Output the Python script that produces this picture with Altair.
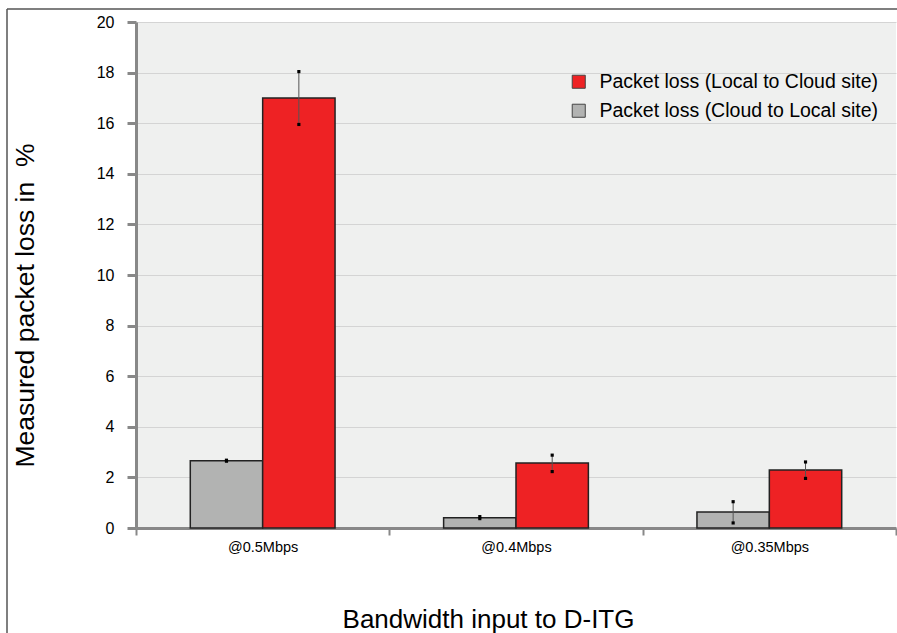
import altair as alt
import pandas as pd

# Bandwidth settings fed to D-ITG
categories = ["@0.5Mbps", "@0.4Mbps", "@0.35Mbps"]

series_up = "Packet loss (Local to Cloud site)"
series_down = "Packet loss (Cloud to Local site)"

# Mean packet loss (%) and error-bar bounds per bandwidth
local_to_cloud = [17.0, 2.57, 2.29]
local_to_cloud_low = [15.95, 2.23, 1.96]
local_to_cloud_high = [18.04, 2.88, 2.61]

cloud_to_local = [2.66, 0.41, 0.63]
cloud_to_local_low = [2.64, 0.37, 0.20]
cloud_to_local_high = [2.68, 0.45, 1.04]

rows = []
for i, c in enumerate(categories):
    rows.append({"cat": c, "series": series_down, "value": cloud_to_local[i],
                 "lo": cloud_to_local_low[i], "hi": cloud_to_local_high[i]})
    rows.append({"cat": c, "series": series_up, "value": local_to_cloud[i],
                 "lo": local_to_cloud_low[i], "hi": local_to_cloud_high[i]})
df = pd.DataFrame(rows)

FONT = "Liberation Sans"
y_title = "Measured packet loss in \u00a0%"

x_enc = alt.X("cat:N", sort=categories, title="Bandwidth input to D-ITG",
              scale=alt.Scale(paddingInner=0, paddingOuter=0),
              axis=alt.Axis(tickBand="extent", titleX=352, titleY=99,
                            titleBaseline="alphabetic", titleAnchor="start",
                            titleAlign="center"))
xo_enc = alt.XOffset("series:N", sort=[series_down, series_up],
                     scale=alt.Scale(paddingInner=0, paddingOuter=0.75))
y_scale = alt.Scale(domain=[0, 20])

base = alt.Chart(df).encode(x=x_enc, xOffset=xo_enc)

bars = base.mark_bar(stroke="#222222", strokeWidth=1.5).encode(
    y=alt.Y("value:Q", scale=y_scale, title=y_title,
            axis=alt.Axis(values=list(range(0, 21, 2)))),
    color=alt.Color(
        "series:N",
        scale=alt.Scale(domain=[series_up, series_down], range=["#ee2224", "#b2b3b2"]),
        legend=alt.Legend(title=None, orient="none", legendX=433, legendY=50,
                          symbolType="square", labelLimit=0),
    ),
)

err = base.mark_rule(color="#555555", strokeWidth=1).encode(
    y=alt.Y("lo:Q", scale=y_scale, title=y_title), y2="hi:Q"
)
cap_lo = base.mark_square(size=10, color="black", opacity=1).encode(
    y=alt.Y("lo:Q", scale=y_scale, title=y_title)
)
cap_hi = base.mark_square(size=10, color="black", opacity=1).encode(
    y=alt.Y("hi:Q", scale=y_scale, title=y_title)
)

# Outer frame lines (top and left)
frame_src = alt.Data(values=[{"k": 0}])
frame_top = alt.Chart(frame_src).mark_rule(color="#555555", strokeWidth=1.5).encode(
    x=alt.value(-129), x2=alt.value(761), y=alt.value(-13)
)
frame_left = alt.Chart(frame_src).mark_rule(color="#555555", strokeWidth=1.5).encode(
    x=alt.value(-129), y=alt.value(-13), y2=alt.value(620)
)

chart = (
    alt.layer(bars, err, cap_lo, cap_hi, frame_top, frame_left)
    .properties(
        width=760,
        height=506,
        autosize=alt.AutoSizeParams(type="none"),
        padding={"left": 136, "top": 22, "right": 1, "bottom": 105},
        background="white",
    )
    .configure_view(fill="#eff0ef", stroke=None)
    .configure_axis(labelFont=FONT, titleFont=FONT, titleFontWeight="normal",
                    labelColor="black", titleColor="black")
    .configure_axisX(domainColor="#888888", domainWidth=3, tickColor="#888888",
                     tickWidth=2, tickSize=7, labelFontSize=14.5, labelPadding=5,
                     labelAngle=0, titleFontSize=26, grid=False)
    .configure_axisY(domainColor="#888888", domainWidth=3, tickColor="#888888",
                     tickWidth=3, tickSize=9, labelFontSize=16, labelPadding=13,
                     gridColor="#d4d4d4", gridWidth=1, titleFontSize=26.5,
                     titleX=-97, titleY=283)
    .configure_legend(labelFont=FONT, labelFontSize=19.5, labelColor="black",
                      symbolSize=170, symbolStrokeColor="#444444",
                      symbolStrokeWidth=1, labelOffset=11, rowPadding=8)
)

chart.save("out.html", embed_options={"renderer": "svg", "actions": False})
